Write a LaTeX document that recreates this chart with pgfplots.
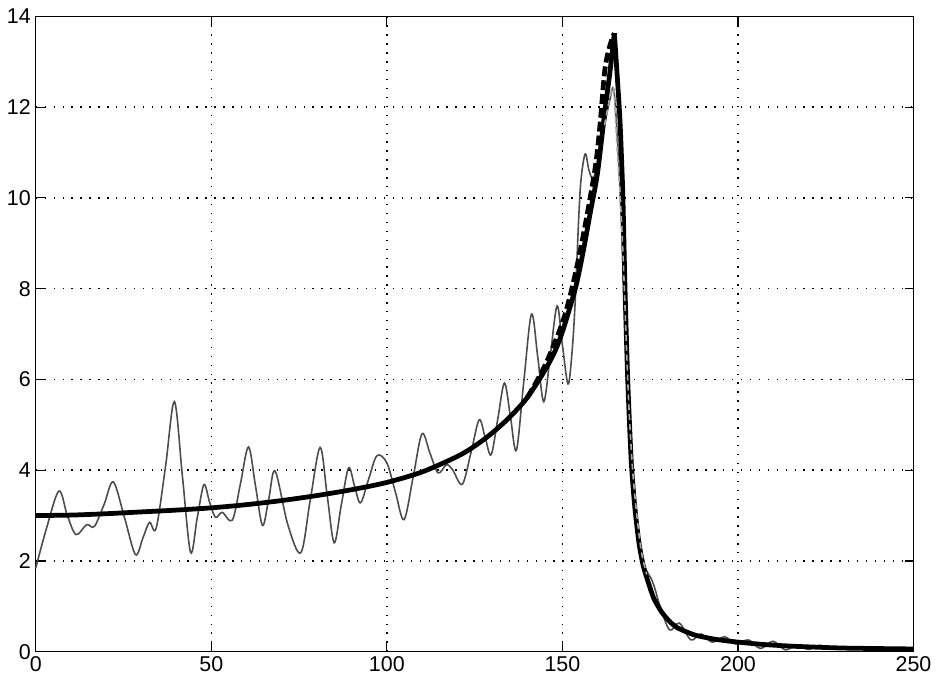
\documentclass[border=0pt]{standalone}
\usepackage{pgfplots}
\pgfplotsset{compat=1.18}
\usepackage{fontspec}
\setmainfont{Liberation Sans}
\begin{document}
\begin{tikzpicture}
\begin{axis}[
  scale only axis, width=442.5pt, height=320.25pt,
  xmin=0, xmax=250, ymin=0, ymax=14,
  xtick={0,50,...,250}, ytick={0,2,...,14},
  tick align=inside, major tick length=4.5pt,
  tick style={black, line width=0.6pt},
  axis line style={black, line width=0.7pt},
  grid=major,
  major grid style={black, line width=0.7pt, dash pattern=on 0.7pt off 3.8pt},
  ticklabel style={font=\fontsize{10.8}{12}\selectfont},
  xticklabel style={yshift=1pt},
  yticklabel style={xshift=1pt},
  /pgf/number format/assume math mode=true,
  clip=false,
]
\path (rel axis cs:-0.0407,-0.0484) rectangle (rel axis cs:1.0192,1.0258);
% thin oscillating measured line
\addplot[black!70, line width=0.8pt, smooth, tension=0.55] coordinates {
(0,1.84) (3,2.7) (6.6,3.54) (9,3.0) (11.5,2.58) (14.5,2.8) (16.7,2.76) (19.5,3.25)
(22.1,3.74) (25.3,2.95) (28.4,2.14) (30.5,2.5) (32.4,2.85) (34.3,2.72) (37,4.1)
(39.5,5.51) (41.8,3.85) (44.1,2.19) (46,2.95) (47.9,3.68) (49.5,3.3) (51.2,2.96)
(53.1,3.07) (56,2.9) (58.3,3.7) (60.6,4.51) (62.6,3.65) (64.6,2.78) (66.4,3.38)
(68.2,3.98) (71.8,2.8) (75.5,2.18) (78.2,3.35) (81,4.5) (83,3.45) (85,2.4)
(87,3.22) (89.1,4.05) (90.8,3.65) (92.5,3.28) (94.8,3.8) (97.2,4.32) (100,4.16)
(102.5,3.5) (104.9,2.91) (107.5,3.85) (110,4.8) (112.3,4.37) (114.6,3.94) (117,4.12)
(118.8,4.0) (121.5,3.69) (124,4.4) (126.3,5.11) (128,4.72) (129.7,4.34) (131.6,5.13)
(133.5,5.92) (135.2,5.18) (136.9,4.44) (139,5.95) (141.2,7.44) (143,6.48) (144.7,5.51)
(146.6,6.56) (148.5,7.62) (150,6.76) (151.6,5.9) (152.7,6.56) (153.6,7.65) (154.6,9.48)
(155.3,10.4) (156.5,10.97) (157.6,10.6) (158.8,10.43) (160.3,10.9) (162,11.6)
(163.5,12.15) (164.6,12.4) (165.6,11.4) (166.6,9.8) (167.5,8.0) (168.4,6.2)
(169.4,4.6) (170.6,3.4) (172,2.4) (173.6,1.85) (175.3,1.61) (176.5,1.35) (177.7,1.03)
(180.5,0.48) (183.3,0.63) (186.6,0.26) (189.5,0.39) (192.7,0.21) (196.2,0.33)
(199.4,0.17) (203,0.26) (206.4,0.07) (210,0.23) (213.5,0.04) (216.8,0.15) (220,0.05)
(223.2,0.14) (227,0.06) (235,0.06) (250,0.05)
};
% thick dashed model
\addplot[black, line width=2.4pt, dash pattern=on 5pt off 2pt, smooth, tension=0.5] coordinates {
(140,5.6) (145,6.3) (150,7.25) (153,8.1) (156,9.2) (159.3,10.64) (160.7,11.6)
(162.1,12.83) (163.5,13.35) (164.8,13.63)
};
% thick solid model, rising part
\addplot[black, line width=2.4pt, smooth, tension=0.5] coordinates {
(0,3.0) (10,3.01) (20,3.04) (30,3.08) (40,3.12) (50,3.17) (60,3.24) (70,3.33)
(80,3.44) (90,3.57) (100,3.73) (110,3.96) (120,4.3) (125,4.53)
(130,4.82) (135,5.17) (140,5.6) (145,6.2) (148,6.64) (150,7.05) (152,7.55)
(154,8.1) (156,8.85) (158,9.7) (160,10.55) (162,11.85) (163.5,12.75) (164.8,13.63)
};
% thick solid model, falling part
\addplot[black, line width=2.4pt, smooth, tension=0.4] coordinates {
(164.8,13.63) (165.6,12.7) (166.4,11.7) (167.2,10.1) (167.8,8.1) (168.6,6.0)
(169.6,4.2) (170.6,3.2) (171.8,2.4) (173,1.9) (174.4,1.54) (176,1.18) (178.2,0.88)
(180.5,0.67) (182.9,0.52) (187.6,0.37) (193,0.28) (198.9,0.22) (207,0.16)
(215.8,0.12) (230,0.08) (250,0.06)
};
% light dashed line
\addplot[black!35, line width=0.8pt, dash pattern=on 3pt off 2pt, smooth, tension=0.5] coordinates {
(162,11.6) (163.5,12.2) (164.6,12.4) (165.5,11.2) (166.5,10.0) (167.4,8.5)
(168.2,6.8) (169,5.3) (170,4.0) (171.2,3.0) (172.5,2.2) (174,1.7)
};
\end{axis}
\end{tikzpicture}
\end{document}
